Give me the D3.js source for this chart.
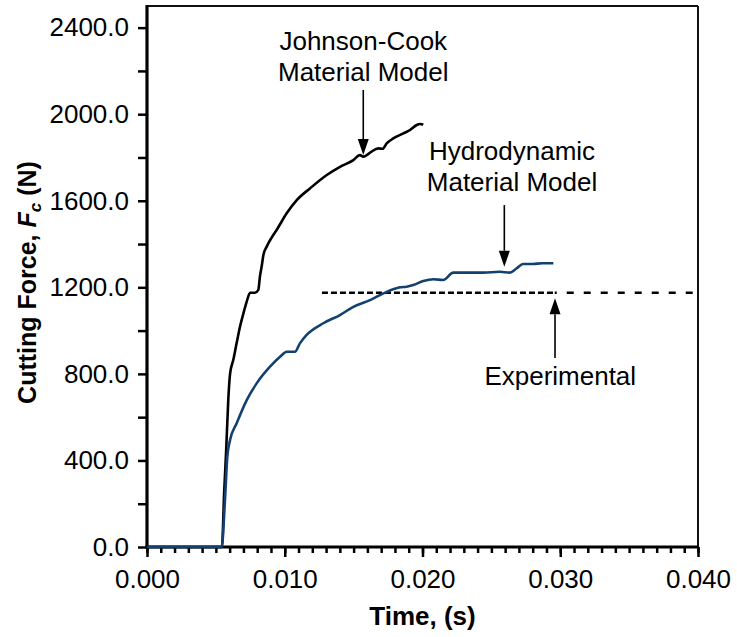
<!DOCTYPE html>
<html>
<head>
<meta charset="utf-8">
<script src="https://cdn.jsdelivr.net/npm/d3@7"></script>
<style>
  body { margin: 0; background: #fff; }
  text { font-family: Arial, "Liberation Sans", sans-serif; fill: #000; }
</style>
</head>
<body>
<svg id="chart" width="737" height="637"></svg>
<script>
// Johnson-Cook material model: time (s) and cutting force (N)
const jcTime = [0, 0.00544, 0.0056, 0.00575, 0.0059, 0.00603, 0.00627, 0.0065, 0.00675, 0.0070, 0.00724,
  0.00748, 0.00784, 0.00808, 0.0082, 0.00832, 0.00845, 0.00869, 0.00905, 0.00941, 0.01014, 0.01087,
  0.01183, 0.01305, 0.01401, 0.01498, 0.01546, 0.0157, 0.01595, 0.0163, 0.01679, 0.0171, 0.0174,
  0.01788, 0.01861, 0.01909, 0.01958, 0.0198, 0.02006];
const jcForce = [0, 0, 250, 450, 680, 800, 866, 940, 1018, 1080, 1134,
  1175, 1175, 1188, 1250, 1295, 1349, 1388, 1430, 1465, 1542, 1603,
  1657, 1719, 1757, 1788, 1811, 1804, 1811, 1827, 1842, 1840, 1865,
  1888, 1911, 1927, 1950, 1955, 1952];

// Hydrodynamic material model
const hydroTime = [0, 0.00542, 0.00566, 0.00583, 0.00603, 0.00651, 0.00724, 0.00796, 0.00893, 0.00966,
  0.01014, 0.01074, 0.0111, 0.01159, 0.0128, 0.01401, 0.01498, 0.01619, 0.01716, 0.01837, 0.01885,
  0.01933, 0.02006, 0.0208, 0.0215, 0.02224, 0.0232, 0.0244, 0.0256, 0.02635, 0.02684, 0.0273,
  0.028, 0.0287, 0.0295];
const hydroForce = [0, 0, 217, 417, 494, 572, 679, 756, 833, 879,
  902, 902, 941, 980, 1034, 1072, 1110, 1141, 1172, 1200, 1203,
  1211, 1229, 1237, 1234, 1268, 1268, 1268, 1272, 1268, 1288, 1308,
  1308, 1311, 1311];

// Experimental cutting force level
const expTime = [0.0127, 0.0296, 0.040];
const expForce = [1175, 1175, 1175];

// Axis ticks
const xMajorTicks = [0, 0.01, 0.02, 0.03, 0.04];
const xMinorTicks = d3.range(0, 41).map(i => i / 1000);
const yMajorTicks = [0, 400, 800, 1200, 1600, 2000, 2400];
const yMinorTicks = [200, 600, 1000, 1400, 1800, 2200];

// Annotation arrows (time, force at tail and tip)
const arrows = [
  { t: 0.0157, from: 2112, to: 1811 },
  { t: 0.02594, from: 1580, to: 1295 },
  { t: 0.02962, from: 873, to: 1149 }
];
const notes = [
  { t: 0.0157, f: 2297, text: "Johnson-Cook" },
  { t: 0.0157, f: 2153, text: "Material Model" },
  { t: 0.0265, f: 1790, text: "Hydrodynamic" },
  { t: 0.0265, f: 1646, text: "Material Model" },
  { t: 0.0300, f: 749, text: "Experimental" }
];

const FONT = 26;
const svg = d3.select("#chart");
const x = d3.scaleLinear().domain([0, 0.04]).range([147, 698]);
const y = d3.scaleLinear().domain([0, 2500]).range([547, 6]);

// Frame: thin top/right borders
svg.append("line").attr("x1", x(0)).attr("x2", x(0.04)).attr("y1", y(2500)).attr("y2", y(2500))
  .attr("stroke", "#111").attr("stroke-width", 2);
svg.append("line").attr("x1", x(0.04)).attr("x2", x(0.04)).attr("y1", y(2500)).attr("y2", y(0))
  .attr("stroke", "#111").attr("stroke-width", 2);

// Y axis
const yAxisMinor = svg.append("g").attr("transform", `translate(${x(0)},0)`)
  .call(d3.axisLeft(y).tickValues(yMinorTicks).tickSize(9).tickFormat(""));
const yAxis = svg.append("g").attr("transform", `translate(${x(0)},0)`)
  .call(d3.axisLeft(y).tickValues(yMajorTicks).tickSize(9).tickPadding(9).tickFormat(d3.format(".1f")));
[yAxisMinor, yAxis].forEach(g => {
  g.select(".domain").remove();
  g.selectAll(".tick line").attr("stroke", "#000").attr("stroke-width", 2.5);
});
yAxis.selectAll(".tick text").attr("font-size", FONT).attr("fill", "#000");

// X axis
const xAxisMinor = svg.append("g").attr("transform", `translate(0,${y(0)})`)
  .call(d3.axisBottom(x).tickValues(xMinorTicks).tickSize(6).tickFormat(""));
const xAxis = svg.append("g").attr("transform", `translate(0,${y(0)})`)
  .call(d3.axisBottom(x).tickValues(xMajorTicks).tickSize(10).tickPadding(13).tickFormat(d3.format(".3f")));
[xAxisMinor, xAxis].forEach(g => {
  g.select(".domain").remove();
  g.selectAll(".tick line").attr("stroke", "#000").attr("stroke-width", 2.5);
});
xAxis.selectAll(".tick text").attr("font-size", FONT).attr("fill", "#000");

// Thick axis lines
svg.append("line").attr("x1", x(0)).attr("x2", x(0)).attr("y1", y(2500) - 1).attr("y2", y(0) + 1.5)
  .attr("stroke", "#000").attr("stroke-width", 3.2);
svg.append("line").attr("x1", x(0) - 1.5).attr("x2", x(0.04) + 1).attr("y1", y(0)).attr("y2", y(0))
  .attr("stroke", "#000").attr("stroke-width", 3.2);

// Axis titles
svg.append("text").attr("x", (x(0) + x(0.04)) / 2).attr("y", 625)
  .attr("text-anchor", "middle").attr("font-size", FONT).attr("font-weight", "bold")
  .text("Time, (s)");
const yTitle = svg.append("text").attr("transform", `translate(36,${(y(0) + y(2500)) / 2 + 6}) rotate(-90)`)
  .attr("text-anchor", "middle").attr("font-size", 25).attr("font-weight", "bold");
yTitle.append("tspan").text("Cutting Force, ");
yTitle.append("tspan").attr("font-style", "italic").text("F");
yTitle.append("tspan").attr("font-size", 17).attr("font-style", "italic").attr("dy", 5).text("c");
yTitle.append("tspan").attr("dy", -5).text(" (N)");

// Series
const line = d3.line().x(d => x(d[0])).y(d => y(d[1])).curve(d3.curveMonotoneX);
const straight = d3.line().x(d => x(d[0])).y(d => y(d[1]));
const jc = jcTime.map((t, i) => [t, jcForce[i]]);
const hydro = hydroTime.map((t, i) => [t, hydroForce[i]]);
const exp = expTime.map((t, i) => [t, expForce[i]]);

svg.append("path").datum(exp.slice(0, 2)).attr("d", straight)
  .attr("fill", "none").attr("stroke", "#000").attr("stroke-width", 2.5).attr("stroke-dasharray", "6,3");
svg.append("path").datum(exp.slice(1)).attr("d", straight)
  .attr("fill", "none").attr("stroke", "#000").attr("stroke-width", 2.5).attr("stroke-dasharray", "7,10")
  .attr("stroke-dashoffset", -12);

svg.append("path").datum(jc).attr("d", line)
  .attr("fill", "none").attr("stroke", "#000").attr("stroke-width", 2.6).attr("stroke-linejoin", "round");
svg.append("path").datum(hydro).attr("d", line)
  .attr("fill", "none").attr("stroke", "#13416f").attr("stroke-width", 2.6).attr("stroke-linejoin", "round");

// Arrows
arrows.forEach(a => {
  const dir = a.to < a.from ? 1 : -1; // 1 = pointing down
  const tipY = y(a.to), px = x(a.t);
  const baseY = tipY - dir * 16;
  svg.append("line").attr("x1", px).attr("x2", px).attr("y1", y(a.from)).attr("y2", baseY)
    .attr("stroke", "#000").attr("stroke-width", 1.6);
  svg.append("path").attr("d", `M${px},${tipY}L${px - 5.5},${baseY}L${px + 5.5},${baseY}Z`).attr("fill", "#000");
});

// Annotation text
svg.selectAll(".note").data(notes).enter().append("text")
  .attr("x", d => x(d.t)).attr("y", d => y(d.f))
  .attr("text-anchor", "middle").attr("font-size", FONT)
  .text(d => d.text);
</script>
</body>
</html>
